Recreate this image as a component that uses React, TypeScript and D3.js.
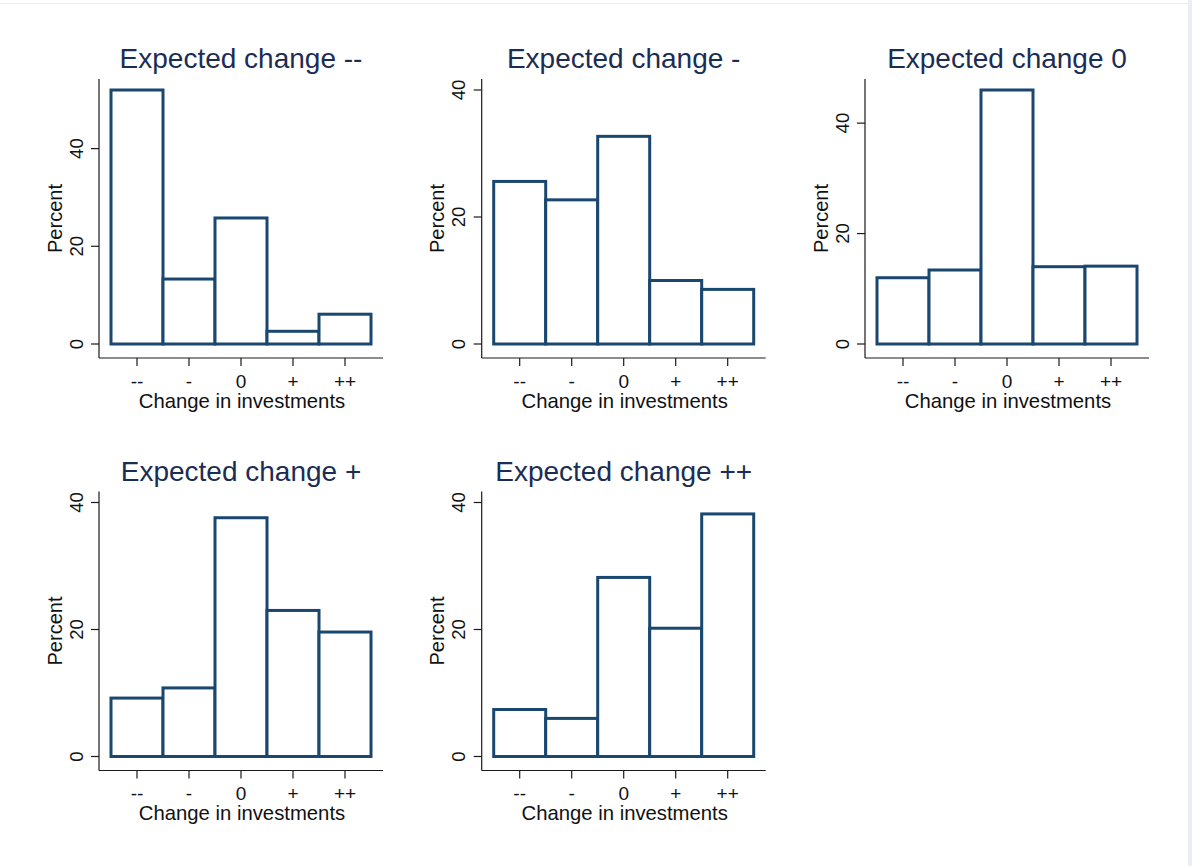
import React from "react";
import * as d3 from "d3";

const categories = ["--", "-", "0", "+", "++"];
const panelTitles = [
  "Expected change --",
  "Expected change -",
  "Expected change 0",
  "Expected change +",
  "Expected change ++",
];
const valuesVeryNeg = [52.0, 13.3, 25.8, 2.6, 6.1];
const valuesNeg = [25.6, 22.7, 32.7, 10.0, 8.6];
const valuesZero = [12.0, 13.4, 46.0, 14.0, 14.1];
const valuesPos = [9.2, 10.8, 37.6, 23.0, 19.6];
const valuesVeryPos = [7.4, 6.0, 28.2, 20.2, 38.2];
const yTicks = [0, 20, 40];
const yLabel = "Percent";
const xLabel = "Change in investments";

const panels = [
  { title: panelTitles[0], values: valuesVeryNeg, col: 0, row: 0 },
  { title: panelTitles[1], values: valuesNeg, col: 1, row: 0 },
  { title: panelTitles[2], values: valuesZero, col: 2, row: 0 },
  { title: panelTitles[3], values: valuesPos, col: 0, row: 1 },
  { title: panelTitles[4], values: valuesVeryPos, col: 1, row: 1 },
];

const FONT = "'Liberation Sans', Arial, Helvetica, sans-serif";
const BAR = "#1a476f";
const TITLE = "#1c2d55";
const AXIS = "#1a1a1a";

const colX = [99, 481.7, 865];
const rowY = [79, 491.5];
const AXW = 284; // x-axis length
const AXH = 279; // y-axis length
const PAD = 12;

function Panel({ title, values, ox, oy }: { title: string; values: number[]; ox: number; oy: number }) {
  const yMax = Math.max(d3.max(values) as number, d3.max(yTicks) as number);
  const y = d3.scaleLinear().domain([0, yMax]).range([oy + 265, oy + 11]);
  const x = d3.scaleBand().domain(categories).range([ox + PAD, ox + AXW - PAD]).padding(0);
  const bottom = oy + AXH;
  const cx = ox + AXW / 2;
  return (
    <g>
      <text x={cx} y={oy - 11} textAnchor="middle" fontSize={28} fill={TITLE} fontFamily={FONT}>
        {title}
      </text>
      {values.map((v, i) => (
        <rect
          key={i}
          x={x(categories[i])}
          y={y(v)}
          width={x.bandwidth()}
          height={y(0) - y(v)}
          fill="white"
          stroke={BAR}
          strokeWidth={3}
        />
      ))}
      <line x1={ox} x2={ox} y1={oy} y2={bottom} stroke={AXIS} strokeWidth={1.2} />
      <line x1={ox} x2={ox + AXW} y1={bottom} y2={bottom} stroke={AXIS} strokeWidth={1.2} />
      {yTicks.map((t) => (
        <g key={t}>
          <line x1={ox - 8} x2={ox} y1={y(t)} y2={y(t)} stroke={AXIS} strokeWidth={1.2} />
          <text
            transform={`translate(${ox - 16.5},${y(t)}) rotate(-90)`}
            textAnchor="middle"
            fontSize={18.5}
            fill="#111"
            fontFamily={FONT}
          >
            {t}
          </text>
        </g>
      ))}
      {categories.map((c) => {
        const tx = (x(c) as number) + x.bandwidth() / 2;
        return (
          <g key={c}>
            <line x1={tx} x2={tx} y1={bottom} y2={bottom + 8} stroke={AXIS} strokeWidth={1.2} />
            <text x={tx} y={bottom + 29.5} textAnchor="middle" fontSize={19} fill="#111" fontFamily={FONT}>
              {c}
            </text>
          </g>
        );
      })}
      <text x={cx + 1} y={bottom + 49.5} textAnchor="middle" fontSize={20.3} fill="#111" fontFamily={FONT}>
        {xLabel}
      </text>
      <text
        transform={`translate(${ox - 37.5},${oy + AXH / 2}) rotate(-90)`}
        textAnchor="middle"
        fontSize={20}
        fill="#111"
        fontFamily={FONT}
      >
        {yLabel}
      </text>
    </g>
  );
}

export default function App() {
  return (
    <svg
      width={1192}
      height={866}
      style={{ position: "absolute", left: 0, top: 0, display: "block", background: "white" }}
    >
      <rect x={0} y={0} width={1192} height={866} fill="white" />
      <line x1={0} x2={1188} y1={3.5} y2={3.5} stroke="#eeeeee" strokeWidth={1} />
      <rect x={1188} y={0} width={4} height={866} fill="#e8eef3" />
      {panels.map((p, i) => (
        <Panel key={i} title={p.title} values={p.values} ox={colX[p.col]} oy={rowY[p.row]} />
      ))}
    </svg>
  );
}
